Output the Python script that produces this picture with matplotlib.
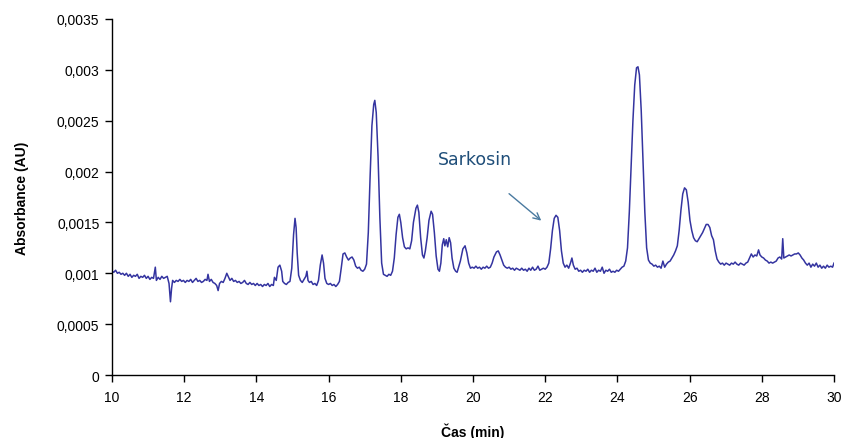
import matplotlib
matplotlib.use("Agg")
import matplotlib.pyplot as plt

time_min = [
    10.00, 10.05, 10.10, 10.15, 10.20, 10.25, 10.30, 10.35, 10.40, 10.45, 10.50, 10.55, 10.60, 10.65, 10.70, 10.75,
    10.80, 10.85, 10.90, 10.95, 11.00, 11.05, 11.10, 11.15, 11.20, 11.23, 11.28, 11.33, 11.38, 11.43, 11.48, 11.53,
    11.58, 11.62, 11.65, 11.68, 11.73, 11.78, 11.83, 11.88, 11.93, 11.98, 12.03, 12.08, 12.13, 12.18, 12.23, 12.28,
    12.33, 12.38, 12.43, 12.48, 12.53, 12.58, 12.63, 12.66, 12.70, 12.75, 12.80, 12.85, 12.90, 12.94, 12.98, 13.03,
    13.08, 13.13, 13.18, 13.22, 13.27, 13.32, 13.37, 13.42, 13.47, 13.52, 13.57, 13.62, 13.67, 13.72, 13.77, 13.82,
    13.87, 13.92, 13.97, 14.02, 14.07, 14.12, 14.17, 14.22, 14.27, 14.32, 14.37, 14.42, 14.47, 14.50, 14.55, 14.60,
    14.65, 14.70, 14.73, 14.78, 14.83, 14.88, 14.93, 14.98, 15.03, 15.07, 15.10, 15.13, 15.17, 15.22, 15.27, 15.32,
    15.37, 15.40, 15.43, 15.47, 15.52, 15.57, 15.62, 15.67, 15.72, 15.77, 15.82, 15.86, 15.90, 15.95, 16.00, 16.05,
    16.10, 16.15, 16.20, 16.25, 16.30, 16.35, 16.40, 16.45, 16.50, 16.55, 16.60, 16.65, 16.70, 16.75, 16.80, 16.85,
    16.90, 16.95, 17.00, 17.05, 17.10, 17.15, 17.20, 17.25, 17.28, 17.32, 17.37, 17.42, 17.47, 17.52, 17.57, 17.62,
    17.67, 17.72, 17.77, 17.82, 17.87, 17.92, 17.96, 18.00, 18.05, 18.10, 18.15, 18.20, 18.25, 18.30, 18.35, 18.42,
    18.46, 18.50, 18.55, 18.60, 18.64, 18.68, 18.73, 18.78, 18.84, 18.88, 18.93, 18.98, 19.03, 19.07, 19.11, 19.15,
    19.19, 19.22, 19.26, 19.30, 19.34, 19.38, 19.42, 19.47, 19.52, 19.56, 19.60, 19.65, 19.72, 19.78, 19.83, 19.88,
    19.93, 19.98, 20.03, 20.08, 20.13, 20.18, 20.23, 20.28, 20.33, 20.38, 20.43, 20.48, 20.53, 20.58, 20.65, 20.70,
    20.75, 20.80, 20.85, 20.90, 20.95, 21.00, 21.05, 21.10, 21.15, 21.20, 21.25, 21.30, 21.35, 21.40, 21.45, 21.50,
    21.55, 21.60, 21.65, 21.70, 21.75, 21.80, 21.85, 21.90, 21.95, 22.00, 22.05, 22.10, 22.15, 22.20, 22.25, 22.30,
    22.35, 22.40, 22.45, 22.50, 22.55, 22.60, 22.65, 22.70, 22.74, 22.78, 22.83, 22.88, 22.93, 22.98, 23.03, 23.08,
    23.13, 23.18, 23.23, 23.28, 23.33, 23.38, 23.43, 23.48, 23.53, 23.58, 23.63, 23.68, 23.73, 23.78, 23.83, 23.88,
    23.93, 23.98, 24.03, 24.08, 24.13, 24.18, 24.23, 24.28, 24.33, 24.38, 24.43, 24.48, 24.53, 24.57, 24.61, 24.66,
    24.71, 24.76, 24.81, 24.86, 24.91, 24.96, 25.01, 25.06, 25.11, 25.16, 25.21, 25.26, 25.31, 25.36, 25.41, 25.46,
    25.51, 25.56, 25.61, 25.66, 25.71, 25.76, 25.81, 25.86, 25.91, 25.96, 26.01, 26.06, 26.11, 26.16, 26.21, 26.26,
    26.31, 26.36, 26.41, 26.46, 26.51, 26.56, 26.61, 26.66, 26.71, 26.76, 26.81, 26.86, 26.91, 26.96, 27.01, 27.06,
    27.11, 27.16, 27.21, 27.26, 27.31, 27.36, 27.41, 27.46, 27.51, 27.56, 27.61, 27.66, 27.71, 27.76, 27.81, 27.86,
    27.91, 27.95, 28.00, 28.05, 28.10, 28.15, 28.20, 28.25, 28.30, 28.35, 28.40, 28.45, 28.50, 28.55, 28.58, 28.61,
    28.66, 28.71, 28.76, 28.81, 28.86, 28.91, 28.96, 29.01, 29.06, 29.11, 29.16, 29.21, 29.26, 29.31, 29.36, 29.41,
    29.46, 29.51, 29.56, 29.61, 29.66, 29.71, 29.76, 29.81, 29.86, 29.91, 29.96, 30.00,
]

absorbance_mau = [
    1.02, 1.01, 1.03, 1.00, 1.01, 0.99, 1.00, 0.98, 1.00, 0.97, 0.99, 0.96, 0.98, 0.97, 0.99, 0.95,
    0.97, 0.96, 0.98, 0.95, 0.97, 0.94, 0.96, 0.95, 1.06, 0.93, 0.96, 0.94, 0.97, 0.95, 0.96, 0.97,
    0.90, 0.72, 0.85, 0.93, 0.91, 0.93, 0.92, 0.94, 0.92, 0.93, 0.91, 0.93, 0.92, 0.94, 0.91, 0.93,
    0.95, 0.92, 0.93, 0.91, 0.92, 0.94, 0.93, 0.99, 0.92, 0.94, 0.91, 0.90, 0.88, 0.83, 0.90, 0.92,
    0.91, 0.95, 1.00, 0.97, 0.93, 0.95, 0.92, 0.93, 0.91, 0.92, 0.90, 0.91, 0.93, 0.90, 0.89, 0.91,
    0.89, 0.90, 0.88, 0.90, 0.88, 0.89, 0.87, 0.89, 0.88, 0.90, 0.87, 0.89, 0.88, 0.96, 0.93, 1.06,
    1.08, 1.02, 0.92, 0.90, 0.89, 0.91, 0.92, 1.05, 1.38, 1.54, 1.45, 1.20, 0.98, 0.93, 0.91, 0.94,
    0.97, 1.02, 0.93, 0.91, 0.92, 0.89, 0.90, 0.88, 0.93, 1.08, 1.18, 1.10, 0.95, 0.90, 0.89, 0.90,
    0.88, 0.89, 0.87, 0.89, 0.92, 1.05, 1.19, 1.20, 1.16, 1.13, 1.15, 1.16, 1.13, 1.07, 1.05, 1.06,
    1.03, 1.02, 1.04, 1.09, 1.40, 1.95, 2.45, 2.66, 2.70, 2.58, 2.15, 1.55, 1.10, 0.99, 0.98, 0.97,
    0.99, 0.98, 1.02, 1.15, 1.38, 1.55, 1.58, 1.50, 1.35, 1.26, 1.24, 1.25, 1.24, 1.32, 1.50, 1.64,
    1.67, 1.60, 1.35, 1.18, 1.15, 1.22, 1.35, 1.52, 1.61, 1.58, 1.40, 1.17, 1.04, 1.02, 1.10, 1.28,
    1.34, 1.27, 1.33, 1.26, 1.35, 1.30, 1.15, 1.05, 1.02, 1.01, 1.06, 1.12, 1.24, 1.27, 1.20, 1.10,
    1.05, 1.06, 1.05, 1.07, 1.05, 1.06, 1.04, 1.06, 1.05, 1.07, 1.05, 1.06, 1.10, 1.16, 1.21, 1.22,
    1.18, 1.13, 1.08, 1.06, 1.05, 1.06, 1.04, 1.05, 1.03, 1.05, 1.04, 1.03, 1.05, 1.03, 1.04, 1.02,
    1.05, 1.03, 1.06, 1.03, 1.04, 1.07, 1.03, 1.04, 1.05, 1.04, 1.06, 1.10, 1.24, 1.42, 1.54, 1.57,
    1.55, 1.42, 1.22, 1.10, 1.06, 1.08, 1.05, 1.10, 1.15, 1.08, 1.04, 1.05, 1.02, 1.03, 1.01, 1.03,
    1.02, 1.04, 1.01, 1.03, 1.02, 1.05, 1.01, 1.03, 1.02, 1.06, 1.00, 1.03, 1.02, 1.04, 1.01, 1.02,
    1.01, 1.03, 1.02, 1.04, 1.06, 1.07, 1.12, 1.25, 1.60, 2.05, 2.50, 2.85, 3.02, 3.03, 2.95, 2.60,
    2.10, 1.60, 1.25, 1.13, 1.10, 1.09, 1.07, 1.08, 1.06, 1.07, 1.05, 1.12, 1.06, 1.09, 1.11, 1.12,
    1.15, 1.18, 1.22, 1.27, 1.42, 1.62, 1.78, 1.84, 1.82, 1.70, 1.52, 1.42, 1.35, 1.32, 1.31, 1.34,
    1.37, 1.40, 1.44, 1.48, 1.48, 1.45, 1.37, 1.33, 1.22, 1.14, 1.11, 1.09, 1.10, 1.08, 1.10, 1.09,
    1.08, 1.10, 1.09, 1.11, 1.09, 1.08, 1.10, 1.09, 1.08, 1.10, 1.11, 1.15, 1.19, 1.16, 1.18, 1.17,
    1.23, 1.18, 1.16, 1.15, 1.13, 1.12, 1.10, 1.11, 1.10, 1.11, 1.12, 1.15, 1.16, 1.14, 1.34, 1.15,
    1.16, 1.17, 1.18, 1.17, 1.18, 1.19, 1.19, 1.20, 1.18, 1.15, 1.13, 1.10, 1.08, 1.10, 1.06, 1.09,
    1.07, 1.10, 1.06, 1.08, 1.05, 1.07, 1.05, 1.08, 1.06, 1.07, 1.06, 1.10,
]

absorbance = [v / 1000 for v in absorbance_mau]

x_ticks = [10, 12, 14, 16, 18, 20, 22, 24, 26, 28, 30]
y_ticks = [0, 0.0005, 0.001, 0.0015, 0.002, 0.0025, 0.003, 0.0035]
y_tick_labels = ["0", "0,0005", "0,001", "0,0015", "0,002", "0,0025", "0,003", "0,0035"]

plt.rcParams['font.family'] = ['Liberation Sans', 'DejaVu Sans']

fig = plt.figure(figsize=(8.42, 4.39), dpi=100)
ax = fig.add_axes([0.133, 0.1435, 0.8575, 0.811])

ax.plot(time_min, absorbance, color='#3434A0', linewidth=1.1)

ax.set_xlim(10, 30)
ax.set_ylim(0, 0.0035)
ax.set_xticks(x_ticks)
ax.set_xticklabels([str(t) for t in x_ticks])
ax.set_yticks(y_ticks)
ax.set_yticklabels(y_tick_labels)

for s in ['top', 'right']:
    ax.spines[s].set_visible(False)
for s in ['left', 'bottom']:
    ax.spines[s].set_color('black')
    ax.spines[s].set_linewidth(1.0)

ax.tick_params(axis='both', direction='out', length=5, width=1, labelsize=10,
               colors='black', pad=4)
ax.tick_params(axis='x', pad=6)

ax.set_xlabel('Čas (min)', fontsize=10, fontweight='bold', labelpad=13)
ax.set_ylabel('Absorbance (AU)', fontsize=10, fontweight='bold', labelpad=20)

ax.text(19.03, 0.00212, 'Sarkosin', fontsize=12.5, color='#1F4E79',
        family='DejaVu Sans', va='center', ha='left')
ax.annotate('', xy=(21.95, 0.00150), xytext=(20.94, 0.00180),
            arrowprops=dict(arrowstyle='->', color='#4A7AA0', lw=1.0,
                            mutation_scale=12))

fig.savefig('out.png', dpi=100)
